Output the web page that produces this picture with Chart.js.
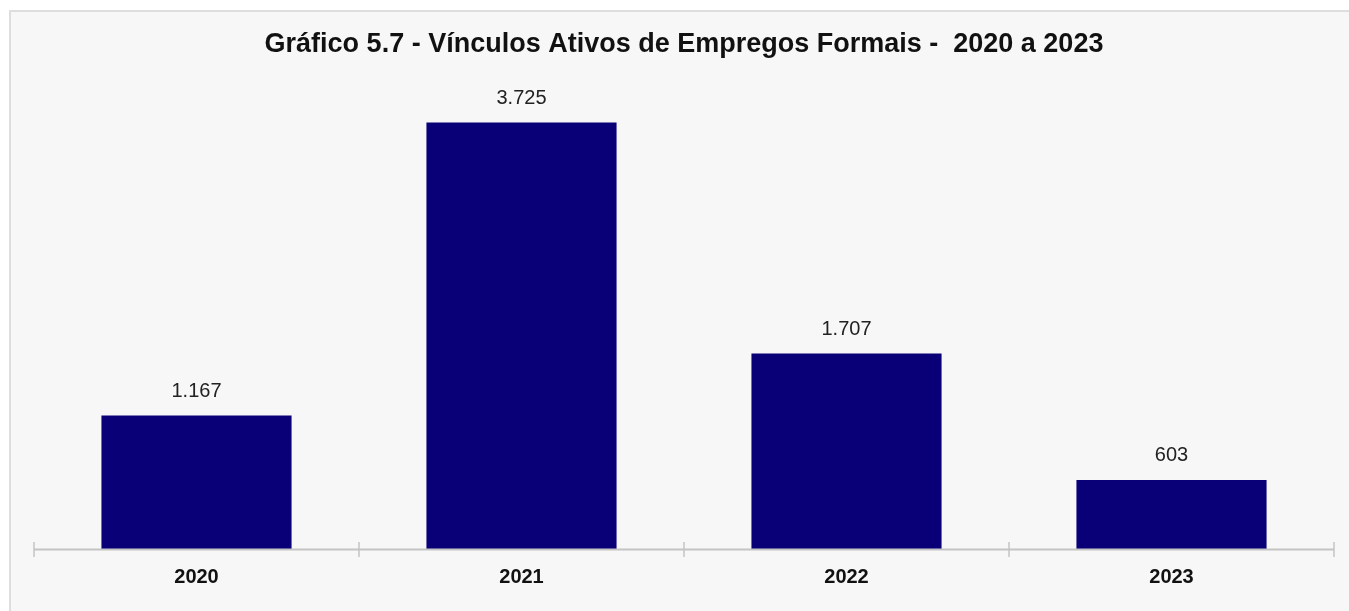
<!DOCTYPE html>
<html>
<head>
<meta charset="utf-8">
<script src="https://cdn.jsdelivr.net/npm/chart.js@4/dist/chart.umd.min.js"></script>
<style>
  html, body { margin: 0; padding: 0; background: #ffffff; }
  #panel {
    position: absolute; left: 9px; top: 10px; right: 0; bottom: 0;
    background: #f7f7f7;
    border-top: 2px solid #dedede;
    border-left: 2px solid #dedede;
  }
  #wrap { position: absolute; left: 0; top: 0; width: 1349px; height: 611px; }
</style>
</head>
<body>
<div id="panel"></div>
<div id="wrap"><canvas id="chart-vinculos"></canvas></div>
<script>
// Vinculos ativos de empregos formais, 2020 a 2023
const years = ["2020", "2021", "2022", "2023"];
const vinculos = [1167, 3725, 1707, 603];
const valueLabels = ["1.167", "3.725", "1.707", "603"];
const yMax = 4015;

const barColor = '#090078';
const axisColor = '#c4c4c4';

// Draws the value above each bar (no datalabels plugin available offline)
const valueLabelPlugin = {
  id: 'valueLabels',
  afterDatasetsDraw: (chart) => {
    const ctx = chart.ctx;
    const meta = chart.getDatasetMeta(0);
    ctx.save();
    ctx.font = '20px "Liberation Sans", Arial, sans-serif';
    ctx.fillStyle = '#222222';
    ctx.textAlign = 'center';
    ctx.textBaseline = 'middle';
    meta.data.forEach((bar, i) => {
      ctx.fillText(valueLabels[i], bar.x, bar.y - 24);
    });
    ctx.restore();
  }
};

// Axis line with tick marks crossing it at the category borders
const axisPlugin = {
  id: 'categoryAxis',
  afterDatasetsDraw: (chart) => {
    const ctx = chart.ctx;
    const xs = chart.scales.x;
    const area = chart.chartArea;
    const n = years.length;
    ctx.save();
    ctx.strokeStyle = axisColor;
    ctx.lineWidth = 2;
    ctx.beginPath();
    ctx.moveTo(area.left, area.bottom + 0.5);
    ctx.lineTo(area.right, area.bottom + 0.5);
    ctx.stroke();
    ctx.lineWidth = 1.5;
    for (let i = 0; i <= n; i++) {
      const x = xs.left + i * (xs.width / n);
      ctx.beginPath();
      ctx.moveTo(x, area.bottom - 7);
      ctx.lineTo(x, area.bottom + 8);
      ctx.stroke();
    }
    ctx.restore();
  }
};

new Chart(document.getElementById('chart-vinculos'), {
  type: 'bar',
  data: {
    labels: years,
    datasets: [{
      label: 'Vínculos ativos',
      data: vinculos,
      backgroundColor: barColor,
      borderWidth: 0,
      categoryPercentage: 1,
      barPercentage: 0.585
    }]
  },
  options: {
    responsive: true,
    maintainAspectRatio: false,
    animation: false,
    layout: {
      padding: { left: 34, right: 15, top: 15, bottom: 6 }
    },
    plugins: {
      legend: { display: false },
      tooltip: { enabled: false },
      title: {
        display: true,
        text: 'Gráfico 5.7 - Vínculos Ativos de Empregos Formais -  2020 a 2023',
        color: '#111111',
        font: { family: '"Liberation Sans", Arial, sans-serif', size: 27, weight: 'bold' },
        padding: { top: 13, bottom: 29 }
      }
    },
    scales: {
      x: {
        grid: { display: false, drawTicks: false },
        border: { display: false },
        ticks: {
          color: '#111111',
          padding: 16,
          font: { family: '"Liberation Sans", Arial, sans-serif', size: 20, weight: 'bold' }
        }
      },
      y: {
        display: false,
        min: 0,
        max: yMax
      }
    }
  },
  plugins: [valueLabelPlugin, axisPlugin]
});
</script>
</body>
</html>
